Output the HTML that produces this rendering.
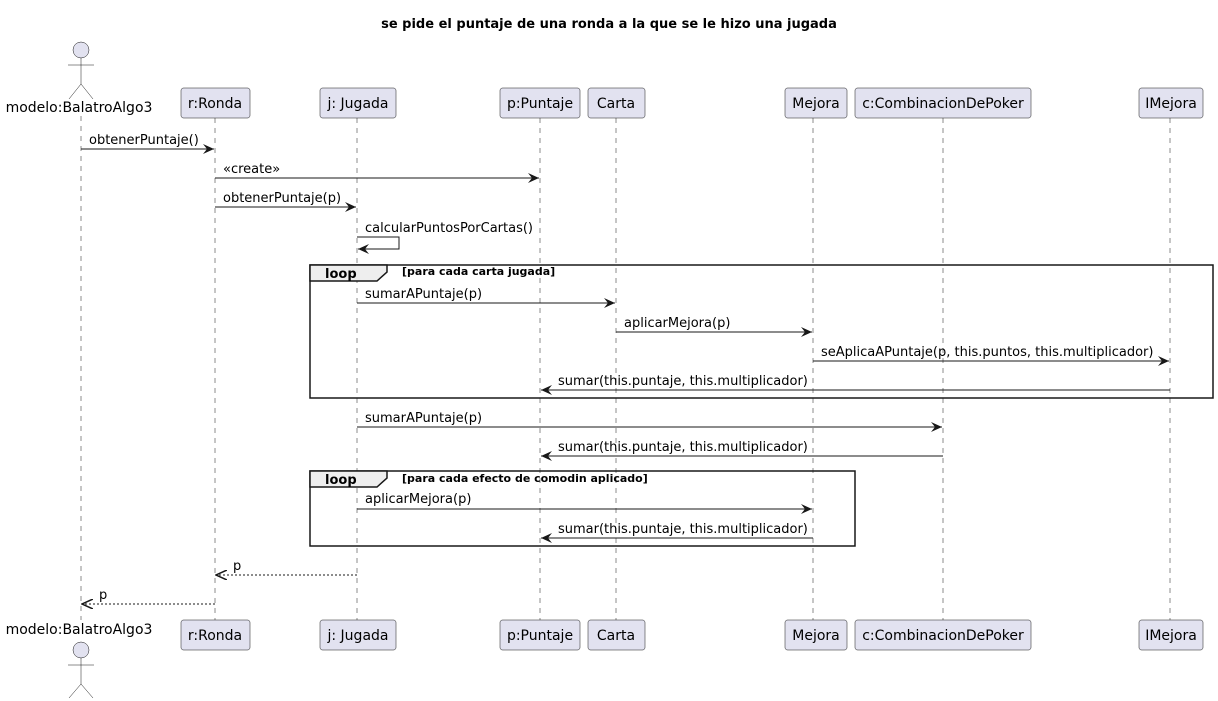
<!DOCTYPE html>
<html><head><meta charset="utf-8"><style>body{margin:0;background:#fff}svg{display:block}text{font-family:"DejaVu Sans","Liberation Sans",sans-serif}</style></head><body>
<svg width="1218" height="701" viewBox="0 0 1218 701" xmlns="http://www.w3.org/2000/svg">
<defs>
<marker id="a" markerWidth="12" markerHeight="10" refX="11" refY="5" orient="auto" markerUnits="userSpaceOnUse"><path d="M0,0 L11,5 L0,10 L4,5 Z" fill="#181818"/></marker>
<marker id="o" markerWidth="12" markerHeight="10" refX="11" refY="5" orient="auto" markerUnits="userSpaceOnUse"><path d="M0,0 L11,5 L0,10" fill="none" stroke="#181818" stroke-width="1.5"/></marker>
</defs>
<text x="609" y="28" text-anchor="middle" font-size="13" font-weight="bold">se pide el puntaje de una ronda a la que se le hizo una jugada</text>
<g stroke="#181818" stroke-width="0.5" stroke-dasharray="5,5">
<line x1="81" y1="116" x2="81" y2="620"/><line x1="215" y1="118" x2="215" y2="620"/><line x1="357" y1="118" x2="357" y2="620"/><line x1="540" y1="118" x2="540" y2="620"/><line x1="616" y1="118" x2="616" y2="620"/><line x1="813" y1="118" x2="813" y2="620"/><line x1="943" y1="118" x2="943" y2="620"/><line x1="1170" y1="118" x2="1170" y2="620"/>
</g>
<g fill="#E2E2F0" stroke="#181818" stroke-width="0.5">
<rect x="181" y="88" width="69" height="30" rx="2.5"/><rect x="320" y="88" width="76" height="30" rx="2.5"/><rect x="500" y="88" width="80" height="30" rx="2.5"/><rect x="588" y="88" width="57" height="30" rx="2.5"/><rect x="785" y="88" width="62" height="30" rx="2.5"/><rect x="855" y="88" width="176" height="30" rx="2.5"/><rect x="1139" y="88" width="64" height="30" rx="2.5"/>
<rect x="181" y="620" width="69" height="30" rx="2.5"/><rect x="320" y="620" width="76" height="30" rx="2.5"/><rect x="500" y="620" width="80" height="30" rx="2.5"/><rect x="588" y="620" width="57" height="30" rx="2.5"/><rect x="785" y="620" width="62" height="30" rx="2.5"/><rect x="855" y="620" width="176" height="30" rx="2.5"/><rect x="1139" y="620" width="64" height="30" rx="2.5"/>
<circle cx="81" cy="50" r="8"/><circle cx="81" cy="650" r="8"/>
</g>
<g stroke="#181818" stroke-width="0.5" fill="none">
<path d="M81,58 V84 M68,65 H94 M81,84 L69,99 M81,84 L93,99"/>
<path d="M81,658 V684 M68,665 H94 M81,684 L69,698 M81,684 L93,698"/>
</g>
<g font-size="14" text-anchor="middle" fill="#000">
<text x="215" y="108">r:Ronda</text><text x="358" y="108">j: Jugada</text><text x="540" y="108">p:Puntaje</text><text x="616" y="108">Carta</text><text x="816" y="108">Mejora</text><text x="943" y="108">c:CombinacionDePoker</text><text x="1171" y="108">IMejora</text>
<text x="215" y="640">r:Ronda</text><text x="358" y="640">j: Jugada</text><text x="540" y="640">p:Puntaje</text><text x="616" y="640">Carta</text><text x="816" y="640">Mejora</text><text x="943" y="640">c:CombinacionDePoker</text><text x="1171" y="640">IMejora</text>
<text x="79" y="112">modelo:BalatroAlgo3</text><text x="79" y="634">modelo:BalatroAlgo3</text>
</g>
<g fill="#EEEEEE" stroke="#181818" stroke-width="1.5">
<rect x="310" y="265" width="903" height="133" fill="none"/>
<path d="M310,265 H387 V272 L377,281 H310 Z"/>
<rect x="310" y="471" width="545" height="75" fill="none"/>
<path d="M310,471 H387 V478 L377,487 H310 Z"/>
</g>
<g font-size="11" font-weight="bold"><text x="325" y="278" font-size="13">loop</text><text x="402" y="275">[para cada carta jugada]</text><text x="325" y="484" font-size="13">loop</text><text x="402" y="482">[para cada efecto de comodin aplicado]</text></g>
<g stroke="#181818" stroke-width="1" fill="none">
<line x1="81" y1="149" x2="214" y2="149" marker-end="url(#a)"/>
<line x1="215" y1="178" x2="539" y2="178" marker-end="url(#a)"/>
<line x1="215" y1="207" x2="356" y2="207" marker-end="url(#a)"/>
<path d="M357,237 H399 V249 H358" marker-end="url(#a)"/>
<line x1="357" y1="303" x2="615" y2="303" marker-end="url(#a)"/>
<line x1="616" y1="332" x2="812" y2="332" marker-end="url(#a)"/>
<line x1="813" y1="361" x2="1169" y2="361" marker-end="url(#a)"/>
<line x1="1170" y1="390" x2="541" y2="390" marker-end="url(#a)"/>
<line x1="357" y1="427" x2="942" y2="427" marker-end="url(#a)"/>
<line x1="943" y1="456" x2="541" y2="456" marker-end="url(#a)"/>
<line x1="357" y1="509" x2="812" y2="509" marker-end="url(#a)"/>
<line x1="813" y1="538" x2="541" y2="538" marker-end="url(#a)"/>
<line x1="357" y1="575" x2="216" y2="575" stroke-dasharray="2,2" marker-end="url(#o)"/>
<line x1="215" y1="604" x2="82" y2="604" stroke-dasharray="2,2" marker-end="url(#o)"/>
</g>
<g font-size="13" fill="#000">
<text x="89" y="144">obtenerPuntaje()</text>
<text x="223" y="173">«create»</text>
<text x="223" y="202">obtenerPuntaje(p)</text>
<text x="365" y="232">calcularPuntosPorCartas()</text>
<text x="365" y="298">sumarAPuntaje(p)</text>
<text x="624" y="327">aplicarMejora(p)</text>
<text x="821" y="356">seAplicaAPuntaje(p, this.puntos, this.multiplicador)</text>
<text x="558" y="385">sumar(this.puntaje, this.multiplicador)</text>
<text x="365" y="422">sumarAPuntaje(p)</text>
<text x="558" y="451">sumar(this.puntaje, this.multiplicador)</text>
<text x="365" y="503">aplicarMejora(p)</text>
<text x="558" y="533">sumar(this.puntaje, this.multiplicador)</text>
<text x="233" y="570">p</text>
<text x="99" y="599">p</text>
</g>
</svg>
</body></html>
